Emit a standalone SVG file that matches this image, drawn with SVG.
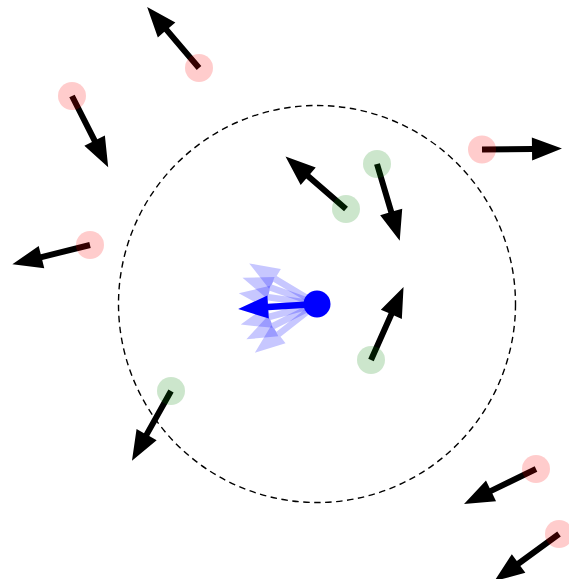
<svg xmlns="http://www.w3.org/2000/svg" xmlns:xlink="http://www.w3.org/1999/xlink" width="569" height="579" viewBox="0 0 569 579">
<style>
.red{fill:#ff0000;fill-opacity:0.2}
.green{fill:#008000;fill-opacity:0.2}
.fan{fill:#0000ff;fill-opacity:0.22}
</style>
<defs>
<path id="arr" d="M0,-3 L50,-3 L50,-11.5 L80,0 L50,11.5 L50,3 L0,3 Z"/>
<path id="barr" d="M0,-3.3 L49,-3.3 L49,-11.5 L79,0 L49,11.5 L49,3.3 L0,3.3 Z"/>
</defs>
<rect width="569" height="579" fill="#ffffff"/>
<circle id="range" cx="317" cy="304" r="198.5" fill="none" stroke="#000" stroke-width="1.4" stroke-dasharray="6.5,4.5"/>
<g id="agent">
<g class="fan">
<use xlink:href="#barr" transform="translate(317,304) rotate(210.9)"/>
<use xlink:href="#barr" transform="translate(317,304) rotate(199.4)"/>
<use xlink:href="#barr" transform="translate(317,304) rotate(187.9)"/>
<use xlink:href="#barr" transform="translate(317,304) rotate(164.9)"/>
<use xlink:href="#barr" transform="translate(317,304) rotate(153.4)"/>
<use xlink:href="#barr" transform="translate(317,304) rotate(141.9)"/>
</g>
<use xlink:href="#barr" fill="#0000ff" transform="translate(317,304) rotate(176.4)"/>
<circle cx="317" cy="304" r="13.5" fill="#0000ff"/>
</g>
<g id="r1"><use xlink:href="#arr" transform="translate(199,68) rotate(-130.4)"/><circle class="red" cx="199" cy="68" r="14"/></g>
<g id="r2"><use xlink:href="#arr" transform="translate(72,96) rotate(63.1)"/><circle class="red" cx="72" cy="96" r="14"/></g>
<g id="r3"><use xlink:href="#arr" transform="translate(482,149.5) rotate(-0.7)"/><circle class="red" cx="482" cy="149.5" r="14"/></g>
<g id="r4"><use xlink:href="#arr" transform="translate(90,245) rotate(166)"/><circle class="red" cx="90" cy="245" r="14"/></g>
<g id="r5"><use xlink:href="#arr" transform="translate(536,469) rotate(154.1)"/><circle class="red" cx="536" cy="469" r="14"/></g>
<g id="r6"><use xlink:href="#arr" transform="translate(559,534) rotate(143.9)"/><circle class="red" cx="559" cy="534" r="14"/></g>
<g id="g1"><use xlink:href="#arr" transform="translate(346,209) rotate(-139.1)"/><circle class="green" cx="346" cy="209" r="14"/></g>
<g id="g2"><use xlink:href="#arr" transform="translate(377,164) rotate(73.5)"/><circle class="green" cx="377" cy="164" r="14"/></g>
<g id="g3"><use xlink:href="#arr" transform="translate(371,360) rotate(-66)"/><circle class="green" cx="371" cy="360" r="14"/></g>
<g id="g4"><use xlink:href="#arr" transform="translate(171,391) rotate(119.2)"/><circle class="green" cx="171" cy="391" r="14"/></g>
</svg>
